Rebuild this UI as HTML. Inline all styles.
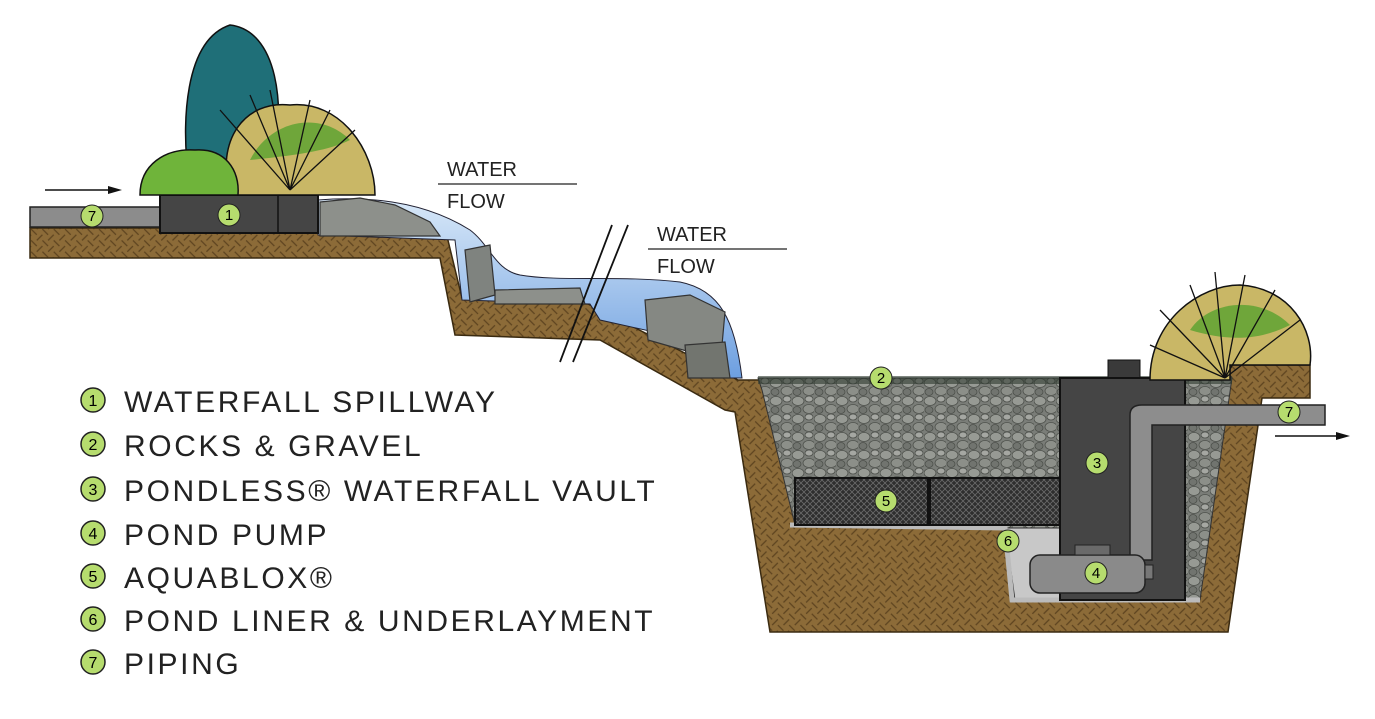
<!DOCTYPE html>
<html><head><meta charset="utf-8"><style>
html,body{margin:0;padding:0;background:#fff;}
svg{display:block;}
text{font-family:"Liberation Sans",sans-serif;}
</style></head><body>
<svg width="1375" height="719" viewBox="0 0 1375 719" xmlns="http://www.w3.org/2000/svg">
<defs>
<pattern id="soil" width="16" height="16" patternUnits="userSpaceOnUse" patternTransform="rotate(45)">
<rect width="16" height="16" fill="#8c6b38"/>
<path d="M0 4H8M8 12H16M4 8V16M12 0V8" stroke="#5e4420" stroke-width="1.3"/>
</pattern>
<pattern id="grav" width="22" height="18" patternUnits="userSpaceOnUse">
<rect width="22" height="18" fill="#7a7d78"/>
<ellipse cx="6" cy="5" rx="6" ry="4.5" fill="#979a94" stroke="#4d504b" stroke-width="0.8"/>
<ellipse cx="17" cy="13" rx="6" ry="4.5" fill="#8c8f89" stroke="#4d504b" stroke-width="0.8"/>
<ellipse cx="17" cy="3" rx="4" ry="3" fill="#a5a7a2" stroke="#4d504b" stroke-width="0.8"/>
<ellipse cx="5" cy="14" rx="4" ry="3.5" fill="#71746f" stroke="#4d504b" stroke-width="0.8"/>
</pattern>
<pattern id="mesh" width="6" height="6" patternUnits="userSpaceOnUse">
<rect width="6" height="6" fill="#2e2e2e"/>
<path d="M0 0L6 6M6 0L0 6" stroke="#6a6a6a" stroke-width="0.8"/>
</pattern>
<linearGradient id="water" x1="0" y1="0" x2="0" y2="1">
<stop offset="0" stop-color="#d8e8f8"/><stop offset="1" stop-color="#6d9fe0"/>
</linearGradient>
</defs>

<polygon points="30,228 445,228 462,298 588,304 738,380 1230,380 1230,365 1310,365 1310,398 1262,398 1228,632 770,632 735,412 725,410 600,340 455,335 440,258 30,258" fill="url(#soil)" stroke="#3a2a10" stroke-width="1.5"/>

<path d="M318,200 C380,195 430,205 470,230 C490,245 495,270 520,275 C560,282 620,275 680,282 C720,290 735,320 742,378 L700,378 L690,340 L600,320 L590,304 L462,300 L455,240 L318,235 Z" fill="url(#water)" stroke="#223" stroke-width="1"/>
<g fill="#7f837f" stroke="#333" stroke-width="1.2">
<path d="M320,202 L360,198 L395,205 L430,222 L440,236 L320,236 Z" fill="#8d908b"/>
<path d="M465,250 L490,245 L495,295 L470,302 Z"/>
<path d="M495,290 L580,288 L585,304 L495,304 Z" fill="#8d908b"/>
<path d="M645,300 L690,295 L725,312 L722,345 L690,352 L648,340 Z" fill="#858883"/>
<path d="M685,345 L725,342 L730,378 L688,378 Z" fill="#72756f"/>
</g>

<polygon points="758,378 1232,378 1200,600 1015,600 1005,528 795,525 762,390" fill="url(#grav)" stroke="#333" stroke-width="1"/>
<path d="M758,380 L1232,380" stroke="#2f3a30" stroke-width="8" opacity="0.6"/>
<polygon points="1005,528 1060,528 1060,600 1015,600" fill="#c8c8c8" stroke="#333" stroke-width="1"/>
<path d="M790,525 L1005,528 L1012,600 L1200,600" fill="none" stroke="#bbb" stroke-width="5"/>
<rect x="795" y="478" width="133" height="47" fill="url(#mesh)" stroke="#111" stroke-width="2"/>
<rect x="930" y="478" width="130" height="47" fill="url(#mesh)" stroke="#111" stroke-width="2"/>
<rect x="1108" y="360" width="32" height="20" fill="#3a3a3a" stroke="#111"/>
<rect x="1060" y="378" width="125" height="222" fill="#454545" stroke="#111" stroke-width="2"/>
<path d="M1130,560 L1130,415 Q1130,405 1142,405 L1325,405 L1325,425 L1152,425 L1152,560 Z" fill="#8d8d8d" stroke="#222" stroke-width="1.5"/>
<rect x="1030" y="555" width="115" height="38" rx="10" fill="#8a8a8a" stroke="#222" stroke-width="1.5"/>
<rect x="1075" y="545" width="35" height="10" fill="#6a6a6a" stroke="#222"/>
<rect x="1145" y="565" width="8" height="14" fill="#777" stroke="#222"/>

<rect x="30" y="207" width="130" height="20" fill="#8c8c8c" stroke="#222" stroke-width="1.5"/>
<rect x="160" y="195" width="158" height="38" fill="#454545" stroke="#111" stroke-width="2"/>
<line x1="278" y1="195" x2="278" y2="233" stroke="#111" stroke-width="1.5"/>

<path d="M190,190 C180,120 185,40 230,25 C275,30 290,100 270,190 Z" fill="#1f6f78" stroke="#111" stroke-width="1.5"/>
<path d="M230,195 C215,140 245,100 290,105 C340,100 375,150 375,195 Z" fill="#c9b766" stroke="#111" stroke-width="1.5"/>
<path d="M250,160 C270,120 320,110 350,140 C330,150 300,155 250,160 Z" fill="#6fa63a"/>
<path d="M140,195 C140,165 165,148 195,150 C225,148 240,170 238,195 Z" fill="#6fb43a" stroke="#111" stroke-width="1.5"/>
<g stroke="#111" stroke-width="1.3" fill="none">
<path d="M290,190 L250,95 M290,190 L270,90 M290,190 L310,100 M290,190 L330,110 M290,190 L355,130 M290,190 L220,110"/>
</g>
<path d="M1150,380 C1150,320 1200,285 1240,285 C1290,288 1315,330 1310,365 L1230,365 L1230,380 Z" fill="#c9b766" stroke="#111" stroke-width="1.5"/>
<path d="M1190,330 C1210,300 1260,295 1290,325 C1260,340 1230,342 1190,330 Z" fill="#6fa63a"/>
<g stroke="#111" stroke-width="1.3" fill="none">
<path d="M1225,378 L1160,310 M1225,378 L1190,285 M1225,378 L1215,272 M1225,378 L1245,275 M1225,378 L1275,290 M1225,378 L1300,320 M1225,378 L1150,345"/>
</g>

<line x1="560" y1="362" x2="612" y2="225" stroke="#111" stroke-width="1.8"/>
<line x1="573" y1="362" x2="628" y2="225" stroke="#111" stroke-width="1.8"/>

<g font-size="20" fill="#222">
<text x="447" y="176">WATER</text><text x="447" y="208">FLOW</text>
<text x="657" y="241">WATER</text><text x="657" y="273">FLOW</text>
</g>
<line x1="438" y1="184" x2="577" y2="184" stroke="#222" stroke-width="1.2"/>
<line x1="648" y1="249" x2="787" y2="249" stroke="#222" stroke-width="1.2"/>

<line x1="45" y1="190" x2="112" y2="190" stroke="#111" stroke-width="1.5"/>
<polygon points="122,190 108,186 108,194" fill="#111"/>
<line x1="1275" y1="436" x2="1340" y2="436" stroke="#111" stroke-width="1.5"/>
<polygon points="1350,436 1336,432 1336,440" fill="#111"/>

<g font-size="15" text-anchor="middle">
<g><circle cx="92" cy="216" r="11" fill="#b6dc6e" stroke="#222"/><text x="92" y="221">7</text></g>
<g><circle cx="229" cy="215" r="11" fill="#b6dc6e" stroke="#222"/><text x="229" y="220">1</text></g>
<g><circle cx="881" cy="378" r="11" fill="#b6dc6e" stroke="#222"/><text x="881" y="383">2</text></g>
<g><circle cx="1097" cy="463" r="11" fill="#b6dc6e" stroke="#222"/><text x="1097" y="468">3</text></g>
<g><circle cx="886" cy="501" r="11" fill="#b6dc6e" stroke="#222"/><text x="886" y="506">5</text></g>
<g><circle cx="1008" cy="541" r="11" fill="#b6dc6e" stroke="#222"/><text x="1008" y="546">6</text></g>
<g><circle cx="1096" cy="573" r="11" fill="#b6dc6e" stroke="#222"/><text x="1096" y="578">4</text></g>
<g><circle cx="1289" cy="412" r="11" fill="#b6dc6e" stroke="#222"/><text x="1289" y="417">7</text></g>
</g>

<g font-size="16" text-anchor="middle">
<circle cx="93" cy="400" r="12" fill="#b6dc6e" stroke="#222" stroke-width="1.5"/><text x="93" y="406">1</text>
<circle cx="93" cy="444" r="12" fill="#b6dc6e" stroke="#222" stroke-width="1.5"/><text x="93" y="450">2</text>
<circle cx="93" cy="489" r="12" fill="#b6dc6e" stroke="#222" stroke-width="1.5"/><text x="93" y="495">3</text>
<circle cx="93" cy="533" r="12" fill="#b6dc6e" stroke="#222" stroke-width="1.5"/><text x="93" y="539">4</text>
<circle cx="93" cy="576" r="12" fill="#b6dc6e" stroke="#222" stroke-width="1.5"/><text x="93" y="582">5</text>
<circle cx="93" cy="619" r="12" fill="#b6dc6e" stroke="#222" stroke-width="1.5"/><text x="93" y="625">6</text>
<circle cx="93" cy="662" r="12" fill="#b6dc6e" stroke="#222" stroke-width="1.5"/><text x="93" y="668">7</text>
</g>
<g font-size="30" fill="#222" letter-spacing="2.6">
<text x="124" y="412">WATERFALL SPILLWAY</text>
<text x="124" y="456">ROCKS &amp; GRAVEL</text>
<text x="124" y="501">PONDLESS® WATERFALL VAULT</text>
<text x="124" y="545">POND PUMP</text>
<text x="124" y="588">AQUABLOX®</text>
<text x="124" y="631">POND LINER &amp; UNDERLAYMENT</text>
<text x="124" y="674">PIPING</text>
</g>
</svg>
</body></html>
